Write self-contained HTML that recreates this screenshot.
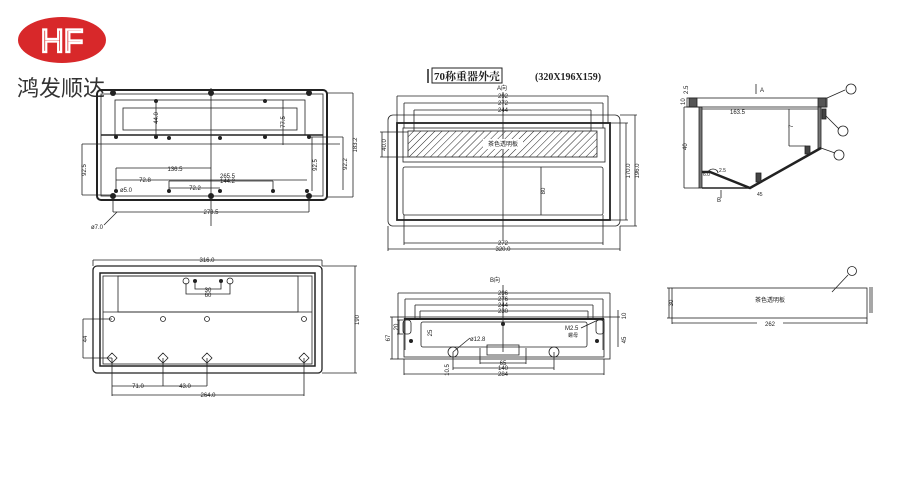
<!DOCTYPE html>
<html><head><meta charset="utf-8"><style>
html,body{margin:0;padding:0;background:#fff;width:900px;height:500px;overflow:hidden}
svg{display:block}
text{font-family:"Liberation Sans","Noto Sans CJK SC",sans-serif;fill:#222}
</style></head><body>
<svg width="900" height="500" viewBox="0 0 900 500" xmlns="http://www.w3.org/2000/svg">
<defs>
<pattern id="h" width="5" height="5" patternUnits="userSpaceOnUse" patternTransform="rotate(45)">
<line x1="0" y1="0" x2="0" y2="5" stroke="#222" stroke-width="1"/></pattern>
</defs>
<!-- logo -->
<ellipse cx="62" cy="40" rx="44" ry="23" fill="#d8282a"/>
<text x="62" y="52" font-size="32" text-anchor="middle" style="fill:#d8282a;stroke:#fff;stroke-width:2.2;font-family:'Liberation Sans',sans-serif">HF</text>
<text x="17" y="96" font-size="22" style="fill:#333">鸿发顺达</text>

<g stroke="#222" fill="none" stroke-width="0.8">
<!-- View 1 -->
<rect x="97" y="90" width="230" height="110" rx="4" stroke-width="2"/>
<rect x="101" y="94" width="222" height="102"/>
<line x1="101" y1="135" x2="323" y2="135" stroke-width="1.5"/>
<rect x="115" y="100" width="190" height="35"/>
<rect x="123" y="108" width="174" height="22"/>
<line x1="211" y1="88" x2="211" y2="226"/>
<line x1="82" y1="144" x2="340" y2="144"/>
<line x1="82" y1="144" x2="82" y2="195"/><line x1="82" y1="195" x2="113" y2="195"/>
<line x1="327" y1="93" x2="353" y2="93"/><line x1="353" y1="93" x2="353" y2="197"/><line x1="327" y1="197" x2="353" y2="197"/>
<line x1="343" y1="137" x2="343" y2="190"/><line x1="310" y1="137" x2="343" y2="137"/>
<line x1="113" y1="195" x2="113" y2="212"/><line x1="309" y1="195" x2="309" y2="212"/><line x1="113" y1="212" x2="309" y2="212"/>
<line x1="116" y1="168" x2="211" y2="168"/><line x1="116" y1="168" x2="116" y2="191"/>
<line x1="116" y1="180" x2="307" y2="180"/>
<line x1="169" y1="181" x2="273" y2="181"/><line x1="169" y1="181" x2="169" y2="191"/><line x1="273" y1="181" x2="273" y2="191"/>
<line x1="169" y1="188" x2="220" y2="188"/>
<line x1="156" y1="100" x2="156" y2="137"/><line x1="283" y1="100" x2="283" y2="145"/>
<line x1="312" y1="137" x2="312" y2="191"/>
<line x1="117" y1="212" x2="104" y2="225"/>
</g>
<g fill="#222">
<circle cx="113" cy="93" r="3"/><circle cx="211" cy="93" r="3"/><circle cx="309" cy="93" r="3"/>
<circle cx="156" cy="101" r="2"/><circle cx="265" cy="101" r="2"/>
<circle cx="116" cy="137" r="2"/><circle cx="156" cy="137" r="2"/><circle cx="169" cy="138" r="2"/><circle cx="220" cy="138" r="2"/><circle cx="265" cy="137" r="2"/><circle cx="309" cy="137" r="2"/>
<circle cx="113" cy="196" r="3"/><circle cx="211" cy="196" r="3"/><circle cx="309" cy="196" r="3"/>
<circle cx="116" cy="191" r="2"/><circle cx="169" cy="191" r="2"/><circle cx="220" cy="191" r="2"/><circle cx="273" cy="191" r="2"/><circle cx="307" cy="191" r="2"/>
</g>
<g font-size="6">
<text x="175" y="171" text-anchor="middle">136.5</text><text x="220" y="178">265.5</text>
<text x="145" y="182" text-anchor="middle">72.8</text><text x="220" y="183">144.2</text>
<text x="195" y="190" text-anchor="middle">72.2</text><text x="120" y="192">ø5.0</text>
<text x="211" y="214" text-anchor="middle">273.5</text><text x="91" y="229">ø7.0</text>
<text transform="translate(86,170) rotate(-90)" text-anchor="middle">92.5</text>
<text transform="translate(357,145) rotate(-90)" text-anchor="middle">183.2</text>
<text transform="translate(347,164) rotate(-90)" text-anchor="middle">92.2</text>
<text transform="translate(317,165) rotate(-90)" text-anchor="middle">92.5</text>
<text transform="translate(158,118) rotate(-90)" text-anchor="middle">44.0</text>
<text transform="translate(285,122) rotate(-90)" text-anchor="middle">77.5</text>
</g>

<!-- View 2 -->
<line x1="428" y1="69" x2="428" y2="83" stroke="#222" stroke-width="1.5"/>
<rect x="432" y="68" width="70" height="15" fill="none" stroke="#222"/>
<text x="434" y="80" font-size="11" style="font-weight:bold;font-family:'Liberation Serif','Noto Serif CJK SC',serif">70称重器外壳</text>
<text x="535" y="80" font-size="10" style="font-weight:bold;font-family:'Liberation Serif',serif">(320X196X159)</text>
<text x="497" y="90" font-size="6">A向</text>
<g stroke="#222" fill="none" stroke-width="0.8">
<rect x="388" y="115" width="232" height="111" rx="5"/>
<rect x="397" y="123" width="213" height="97" stroke-width="1.8"/>
<rect x="403" y="128" width="202" height="34"/>
<rect x="408" y="131" width="189" height="26" fill="url(#h)"/>
<rect x="403" y="167" width="200" height="48" rx="2"/>
<line x1="541" y1="167" x2="541" y2="215"/>
<line x1="503" y1="92" x2="503" y2="240"/>
<line x1="397" y1="96" x2="608" y2="96"/><line x1="397" y1="96" x2="397" y2="123"/><line x1="608" y1="96" x2="608" y2="123"/>
<line x1="404" y1="103" x2="603" y2="103"/><line x1="404" y1="103" x2="404" y2="128"/><line x1="603" y1="103" x2="603" y2="128"/>
<line x1="414" y1="110" x2="591" y2="110"/><line x1="414" y1="110" x2="414" y2="131"/><line x1="591" y1="110" x2="591" y2="131"/>
<line x1="404" y1="215" x2="404" y2="245"/><line x1="603" y1="215" x2="603" y2="245"/><line x1="404" y1="243" x2="603" y2="243"/>
<line x1="388" y1="226" x2="388" y2="251"/><line x1="620" y1="226" x2="620" y2="251"/><line x1="388" y1="249" x2="620" y2="249"/>
<line x1="610" y1="123" x2="628" y2="123"/><line x1="610" y1="220" x2="628" y2="220"/><line x1="626" y1="123" x2="626" y2="220"/>
<line x1="620" y1="115" x2="637" y2="115"/><line x1="620" y1="226" x2="637" y2="226"/><line x1="635" y1="115" x2="635" y2="226"/>
<line x1="380" y1="132" x2="408" y2="132"/><line x1="380" y1="157" x2="408" y2="157"/><line x1="382" y1="132" x2="382" y2="157"/>
</g>
<rect x="483" y="139" width="40" height="10" fill="#fff"/>
<g font-size="6">
<text x="503" y="146" text-anchor="middle">茶色透明板</text>
<text x="503" y="98" text-anchor="middle">292</text><text x="503" y="105" text-anchor="middle">272</text><text x="503" y="112" text-anchor="middle">244</text>
<text x="503" y="245" text-anchor="middle">272</text><text x="503" y="251" text-anchor="middle">320.0</text>
<text transform="translate(630,171) rotate(-90)" text-anchor="middle">170.0</text>
<text transform="translate(639,171) rotate(-90)" text-anchor="middle">196.0</text>
<text transform="translate(386,145) rotate(-90)" text-anchor="middle">40.0</text>
<text transform="translate(545,191) rotate(-90)" text-anchor="middle">80</text>
</g>

<!-- View 3 section -->
<g stroke="#222" fill="none" stroke-width="0.8">
<rect x="687" y="98" width="140" height="9"/>
<rect x="689" y="98" width="8" height="9" fill="#555"/><rect x="818" y="98" width="8" height="9" fill="#555"/>
<rect x="699" y="107" width="3" height="81" fill="#777"/>
<rect x="818" y="107" width="3" height="42" fill="#777"/>
<rect x="822" y="109" width="4" height="10" fill="#444"/>
<polyline points="821,148 750,188 710,172 702,172" stroke-width="2.5"/>
<line x1="702" y1="188" x2="750" y2="188" stroke-width="1.5"/>
<line x1="684" y1="107" x2="684" y2="188"/><line x1="684" y1="188" x2="699" y2="188"/>
<line x1="684" y1="107" x2="699" y2="107"/>
<line x1="702" y1="109" x2="818" y2="109"/>
<line x1="789" y1="109" x2="789" y2="146"/><line x1="789" y1="146" x2="806" y2="146"/>
<rect x="805" y="146" width="5" height="8" fill="#444"/>
<rect x="756" y="173" width="5" height="9" fill="#444"/>
<path d="M708 173 a5 4 0 0 1 10 0"/>
<line x1="827" y1="98" x2="845" y2="90"/><line x1="826" y1="116" x2="839" y2="129"/><line x1="821" y1="148" x2="835" y2="153"/>
<circle cx="851" cy="89" r="5"/><circle cx="843" cy="131" r="5"/><circle cx="839" cy="155" r="5"/>
<line x1="756" y1="84" x2="756" y2="94"/>
<line x1="721" y1="190" x2="721" y2="198"/>
</g>
<g font-size="6">
<text x="730" y="114">163.5</text><text x="760" y="92">A</text><text x="717" y="202">B</text>
<text transform="translate(688,94) rotate(-90)">2.5</text>
<text transform="translate(685,105) rotate(-90)">10</text>
<text transform="translate(687,150) rotate(-90)">40</text>
<text transform="translate(793,128) rotate(-90)">7</text>
<text x="703" y="176" font-size="5">6.0</text><text x="719" y="172" font-size="5">2.5</text>
<text x="757" y="196" font-size="5">45</text>
</g>

<!-- View 4 -->
<g stroke="#222" fill="none" stroke-width="0.8">
<rect x="93" y="266" width="229" height="107" rx="4" stroke-width="1.3"/>
<rect x="100" y="273" width="215" height="93" stroke-width="1.5"/>
<rect x="103" y="276" width="209" height="88"/>
<line x1="103" y1="312" x2="312" y2="312"/>
<rect x="118" y="276" width="180" height="36"/>
<line x1="93" y1="260" x2="322" y2="260"/><line x1="93" y1="260" x2="93" y2="266"/><line x1="322" y1="260" x2="322" y2="266"/>
<line x1="322" y1="266" x2="357" y2="266"/><line x1="322" y1="373" x2="357" y2="373"/><line x1="355" y1="266" x2="355" y2="373"/>
<line x1="83" y1="319" x2="112" y2="319"/><line x1="83" y1="358" x2="112" y2="358"/><line x1="83" y1="319" x2="83" y2="358"/>
<line x1="112" y1="358" x2="112" y2="396"/><line x1="163" y1="358" x2="163" y2="386"/><line x1="207" y1="358" x2="207" y2="386"/><line x1="304" y1="358" x2="304" y2="396"/>
<line x1="112" y1="386" x2="207" y2="386"/><line x1="112" y1="395" x2="304" y2="395"/>
<polyline points="186,283 186,294 230,294 230,283"/><polyline points="195,283 195,289 221,289 221,283"/>
<circle cx="186" cy="281" r="3"/><circle cx="230" cy="281" r="3"/>
<circle cx="112" cy="319" r="2.5"/><circle cx="163" cy="319" r="2.5"/><circle cx="207" cy="319" r="2.5"/><circle cx="304" cy="319" r="2.5"/>
<path d="M112 353 l5 5 l-5 5 l-5 -5z M163 353 l5 5 l-5 5 l-5 -5z M207 353 l5 5 l-5 5 l-5 -5z M304 353 l5 5 l-5 5 l-5 -5z"/>
</g>
<g fill="#222"><circle cx="195" cy="281" r="2"/><circle cx="221" cy="281" r="2"/></g>
<g font-size="6">
<text x="207" y="262" text-anchor="middle">316.0</text>
<text x="208" y="292" text-anchor="middle">30</text><text x="208" y="297" text-anchor="middle">60</text>
<text x="138" y="388" text-anchor="middle">71.0</text><text x="185" y="388" text-anchor="middle">43.0</text><text x="208" y="397" text-anchor="middle">264.0</text>
<text transform="translate(359,320) rotate(-90)" text-anchor="middle">190</text>
<text transform="translate(87,339) rotate(-90)" text-anchor="middle">44</text>
</g>

<!-- View 5 -->
<text x="490" y="282" font-size="6">B向</text>
<g stroke="#222" fill="none" stroke-width="0.8">
<rect x="398" y="317" width="212" height="42"/>
<rect x="404" y="319" width="200" height="38"/>
<line x1="404" y1="319" x2="604" y2="319" stroke-width="2"/>
<rect x="421" y="322" width="166" height="25" rx="2"/>
<rect x="403" y="320" width="8" height="14" rx="3"/><rect x="596" y="320" width="8" height="14" rx="3"/>
<line x1="398" y1="293" x2="610" y2="293"/><line x1="398" y1="293" x2="398" y2="317"/><line x1="610" y1="293" x2="610" y2="317"/>
<line x1="405" y1="299" x2="603" y2="299"/><line x1="405" y1="299" x2="405" y2="350"/><line x1="603" y1="299" x2="603" y2="350"/>
<line x1="415" y1="305" x2="593" y2="305"/><line x1="415" y1="305" x2="415" y2="320"/><line x1="593" y1="305" x2="593" y2="320"/>
<line x1="420" y1="311" x2="588" y2="311"/><line x1="420" y1="311" x2="420" y2="320"/><line x1="588" y1="311" x2="588" y2="320"/>
<line x1="503" y1="285" x2="503" y2="352"/>
<rect x="487" y="345" width="32" height="10"/>
<circle cx="453" cy="352" r="5"/><circle cx="554" cy="352" r="5"/>
<line x1="453" y1="352" x2="453" y2="370"/><line x1="554" y1="352" x2="554" y2="370"/>
<line x1="480" y1="348" x2="480" y2="364"/><line x1="526" y1="348" x2="526" y2="364"/>
<line x1="480" y1="363" x2="526" y2="363"/><line x1="453" y1="368" x2="554" y2="368"/>
<line x1="404" y1="359" x2="404" y2="375"/><line x1="604" y1="359" x2="604" y2="375"/><line x1="404" y1="374" x2="604" y2="374"/>
<line x1="390" y1="317" x2="398" y2="317"/><line x1="390" y1="359" x2="398" y2="359"/><line x1="392" y1="317" x2="392" y2="359"/>
<line x1="397" y1="320" x2="403" y2="320"/><line x1="397" y1="334" x2="403" y2="334"/><line x1="399" y1="320" x2="399" y2="334"/>
<line x1="610" y1="317" x2="620" y2="317"/><line x1="618" y1="310" x2="618" y2="347"/>
<line x1="453" y1="352" x2="470" y2="338"/><line x1="581" y1="328" x2="598" y2="320"/>
</g>
<g fill="#222"><circle cx="411" cy="341" r="2"/><circle cx="597" cy="341" r="2"/><circle cx="503" cy="324" r="2"/></g>
<g font-size="6">
<text x="503" y="295" text-anchor="middle">296</text><text x="503" y="301" text-anchor="middle">276</text><text x="503" y="307" text-anchor="middle">244</text><text x="503" y="313" text-anchor="middle">230</text>
<text x="470" y="341">ø12.8</text><text x="565" y="330">M2.5</text><text x="568" y="337" font-size="5">螺母</text>
<text x="503" y="365" text-anchor="middle">65</text><text x="503" y="370" text-anchor="middle">140</text><text x="503" y="376" text-anchor="middle">284</text>
<text transform="translate(390,338) rotate(-90)" text-anchor="middle">67</text>
<text transform="translate(398,327) rotate(-90)" text-anchor="middle">20</text>
<text transform="translate(626,316) rotate(-90)" text-anchor="middle">10</text>
<text transform="translate(626,340) rotate(-90)" text-anchor="middle">45</text>
<text transform="translate(449,370) rotate(-90)" text-anchor="middle">10.5</text>
<text transform="translate(432,333) rotate(-90)" text-anchor="middle">25</text>
</g>

<!-- View 6 -->
<g stroke="#222" fill="none" stroke-width="0.8">
<rect x="672" y="288" width="195" height="30"/>
<line x1="667" y1="288" x2="672" y2="288"/><line x1="667" y1="318" x2="672" y2="318"/><line x1="669" y1="288" x2="669" y2="318"/>
<line x1="672" y1="318" x2="672" y2="324"/><line x1="867" y1="318" x2="867" y2="324"/><line x1="672" y1="323" x2="867" y2="323"/>
<line x1="870" y1="287" x2="870" y2="313"/><line x1="872" y1="287" x2="872" y2="313"/>
<line x1="832" y1="292" x2="848" y2="275"/><circle cx="852" cy="271" r="4.5"/>
</g>
<g font-size="6">
<text x="770" y="302" text-anchor="middle">茶色透明板</text>
<rect x="757" y="320" width="26" height="6" fill="#fff"/>
<text x="770" y="326" text-anchor="middle">262</text>
<text transform="translate(673,303) rotate(-90)" text-anchor="middle">30</text>
</g>
</svg>
</body></html>
